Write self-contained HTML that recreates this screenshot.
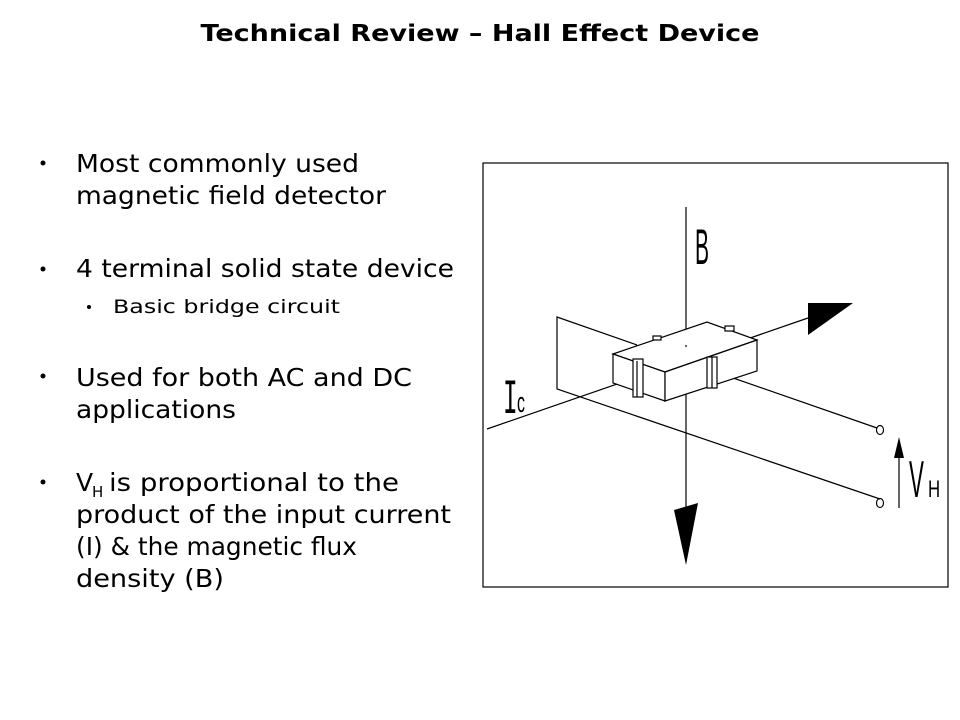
<!DOCTYPE html>
<html><head><style>body{margin:0;background:#fff}svg{display:block}</style></head><body>
<svg width="960" height="720" viewBox="0 0 960 720" xmlns="http://www.w3.org/2000/svg">
<g font-family="DejaVu Sans, Liberation Sans, sans-serif" fill="#000">
<text x="480" y="41" font-size="23" font-weight="bold" text-anchor="middle" textLength="559" lengthAdjust="spacingAndGlyphs">Technical Review – Hall Effect Device</text>
<g font-size="25">
<circle cx="43" cy="163" r="2.5"/>
<text x="76" y="172" textLength="283" lengthAdjust="spacingAndGlyphs">Most commonly used</text>
<text x="76" y="204" textLength="310" lengthAdjust="spacingAndGlyphs">magnetic field detector</text>
<circle cx="43" cy="269" r="2.5"/>
<text x="76" y="277" textLength="378" lengthAdjust="spacingAndGlyphs">4 terminal solid state device</text>
<circle cx="43" cy="376" r="2.5"/>
<text x="76" y="386" textLength="336" lengthAdjust="spacingAndGlyphs">Used for both AC and DC</text>
<text x="76" y="418" textLength="160" lengthAdjust="spacingAndGlyphs">applications</text>
<circle cx="43" cy="482" r="2.5"/>
<text x="76" y="491">V</text>
<text x="92" y="497" font-size="15">H</text>
<text x="109" y="491" textLength="290" lengthAdjust="spacingAndGlyphs">is proportional to the</text>
<text x="76" y="523" textLength="375" lengthAdjust="spacingAndGlyphs">product of the input current</text>
<text x="76" y="555" textLength="281" lengthAdjust="spacingAndGlyphs">(I) &amp; the magnetic flux</text>
<text x="76" y="587" textLength="148" lengthAdjust="spacingAndGlyphs">density (B)</text>
</g>
<circle cx="89" cy="307" r="2"/>
<text x="113" y="313" font-size="19" textLength="227" lengthAdjust="spacingAndGlyphs">Basic bridge circuit</text>
</g>
<g fill="none" stroke="#000" stroke-width="1.2">
<rect x="483" y="163" width="465" height="424"/>
<line x1="686" y1="207" x2="686" y2="510"/>
<line x1="487" y1="429" x2="808" y2="318"/>
<polyline points="637,345 557,317 557,389 880,499"/>
<line x1="713" y1="371" x2="877" y2="428"/>
<ellipse cx="880" cy="430" rx="3.5" ry="4.5"/>
<ellipse cx="880" cy="503" rx="3.5" ry="4.5"/>
<polygon points="613,354 707,322 757,340 665,372" fill="#fff"/>
<polygon points="613,354 665,372 665,401 613,383" fill="#fff"/>
<polygon points="665,372 757,340 757,371 665,401" fill="#fff"/>
<rect x="633" y="359" width="10" height="38" fill="#fff"/>
<line x1="637" y1="361" x2="637" y2="397"/>
<rect x="707" y="357" width="10" height="31" fill="#fff"/>
<line x1="712" y1="357" x2="712" y2="388"/>
<rect x="653" y="336" width="8" height="4" fill="#fff"/>
<rect x="725" y="326" width="9" height="5" fill="#fff"/>
<line x1="686" y1="345" x2="686" y2="347"/>
<line x1="899" y1="508" x2="899" y2="455"/>
</g>
<g fill="#000">
<polygon points="674,510 698,503 686,565"/>
<polygon points="808,303 853,303 808,335"/>
<polygon points="899,437 894,458 904,458"/>
</g>
<g fill="#000" font-family="Liberation Sans, sans-serif">
<text transform="translate(695,264) scale(0.42,1)" font-size="50">B</text>
<text transform="translate(503,413) scale(0.5,1)" font-family="Liberation Mono, monospace" font-size="49">I</text>
<text transform="translate(517,412) scale(0.55,1)" font-size="29">c</text>
<text transform="translate(909,497) scale(0.43,1)" font-size="52">V</text>
<text transform="translate(928,497) scale(0.7,1)" font-size="24">H</text>
</g>
</svg>
</body></html>
